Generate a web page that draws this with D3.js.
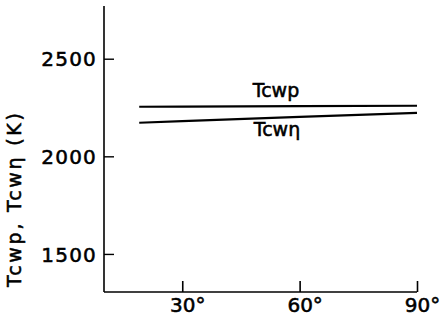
<!DOCTYPE html>
<html>
<head>
<meta charset="utf-8">
<script src="https://cdn.jsdelivr.net/npm/d3@7"></script>
<style>
  html, body { margin: 0; padding: 0; background: #fff; }
  svg { display: block; }
  text { font-family: "DejaVu Sans", sans-serif; fill: #000; stroke: #000; stroke-width: 0.55px; }
</style>
</head>
<body>
<svg id="chart" width="444" height="320"></svg>
<script>
// Data
const angles = [19, 30, 60, 90];                 // degrees
const tcwpValues = [2254, 2255, 2257, 2259];     // K
const tcwEtaValues = [2172, 2180, 2202, 2223];   // K
const xTickValues = [30, 60, 90];
const xTickLabels = ["30°", "60°", "90°"];
const yTickValues = [1500, 2000, 2500];
const yTickLabels = ["1500", "2000", "2500"];
const seriesNames = ["Tcwp", "Tcwη"];
const yTitle = "Tcwp, Tcwη (K)";

const svg = d3.select("#chart");
const mLeft = 104, mRight = 417, mTop = 6, mBottom = 292;

const x = d3.scaleLinear().domain([10, 90]).range([mLeft, mRight]);
const y = d3.scaleLinear().domain([1305, 2770]).range([mBottom, mTop]);

// Axes lines
svg.append("line").attr("x1", mLeft).attr("x2", mLeft).attr("y1", mTop).attr("y2", mBottom)
  .attr("stroke", "#000").attr("stroke-width", 1.6);
svg.append("line").attr("x1", mLeft).attr("x2", mRight).attr("y1", mBottom).attr("y2", mBottom)
  .attr("stroke", "#000").attr("stroke-width", 1.6);

// Y axis ticks (inward) and labels
const yAxis = d3.axisLeft(y).tickValues(yTickValues).tickSize(-10)
  .tickFormat((d, i) => yTickLabels[i]);
const gy = svg.append("g").attr("transform", `translate(${mLeft},0)`).call(yAxis);
gy.select(".domain").remove();
gy.selectAll(".tick line").attr("stroke", "#000").attr("stroke-width", 1.4);
gy.selectAll(".tick text").attr("font-size", 20).attr("letter-spacing", 1.2)
  .attr("font-family", "DejaVu Sans").attr("fill", "#000").attr("x", -7).attr("dy", "0.36em");

// X axis ticks (inward) and labels
const xAxis = d3.axisBottom(x).tickValues(xTickValues).tickSize(-11)
  .tickFormat((d, i) => xTickLabels[i]);
const gx = svg.append("g").attr("transform", `translate(0,${mBottom})`).call(xAxis);
gx.select(".domain").remove();
gx.selectAll(".tick line").attr("stroke", "#000").attr("stroke-width", 1.6);
gx.selectAll(".tick text").attr("font-size", 20).attr("font-family", "DejaVu Sans")
  .attr("fill", "#000").attr("y", 20).attr("dy", 0).attr("dx", 5);

// Lines
const line = d3.line().x((d, i) => x(angles[i])).y(d => y(d));
[tcwpValues, tcwEtaValues].forEach(vals => {
  svg.append("path").datum(vals).attr("d", line)
    .attr("fill", "none").attr("stroke", "#000").attr("stroke-width", 2.2);
});

// Series labels
svg.append("text").attr("x", 276).attr("y", 97).attr("text-anchor", "middle")
  .attr("font-size", 19).text(seriesNames[0]);
svg.append("text").attr("x", 277).attr("y", 136).attr("text-anchor", "middle")
  .attr("font-size", 19).text(seriesNames[1]);

// Y title
svg.append("text").attr("transform", "translate(21,200) rotate(-90)")
  .attr("text-anchor", "middle").attr("font-size", 19)
  .attr("textLength", 174).attr("lengthAdjust", "spacing").text(yTitle);
</script>
</body>
</html>
